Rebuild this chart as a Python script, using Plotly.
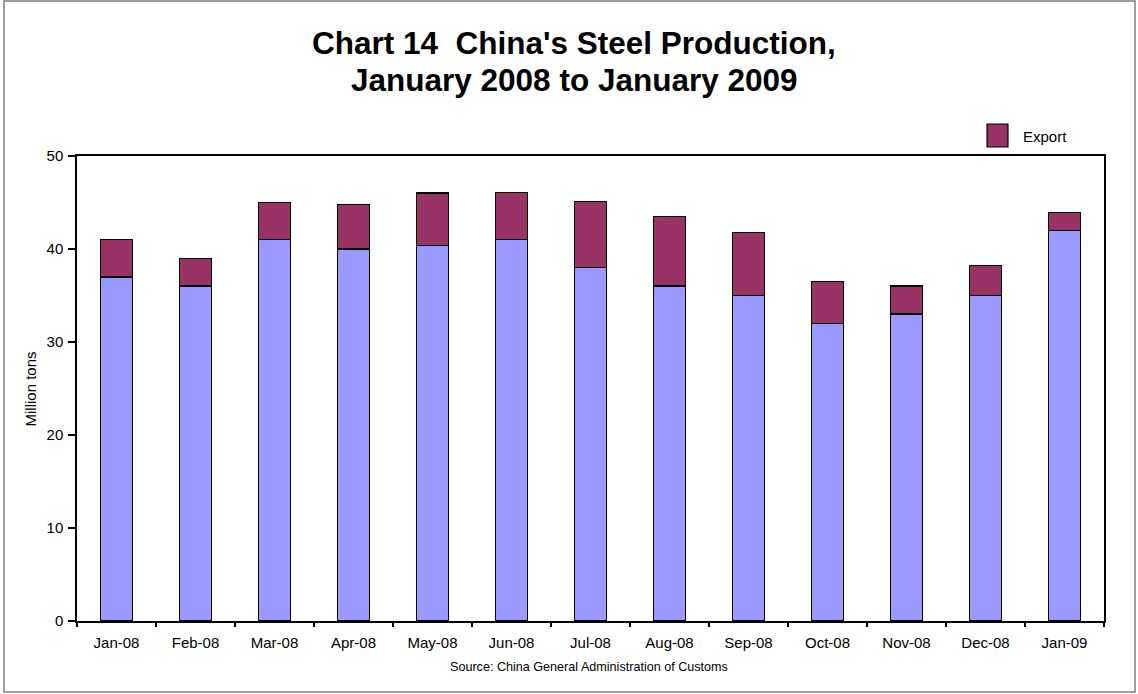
import plotly.graph_objects as go

months = ["Jan-08", "Feb-08", "Mar-08", "Apr-08", "May-08", "Jun-08", "Jul-08",
          "Aug-08", "Sep-08", "Oct-08", "Nov-08", "Dec-08", "Jan-09"]
domestic = [37, 36, 41, 40, 40.4, 41, 38, 36, 35, 32, 33, 35, 42]
export = [4, 3, 4, 4.8, 5.6, 5.1, 7.1, 7.5, 6.8, 4.5, 3, 3.2, 1.9]

FONT = "Arial, Liberation Sans, sans-serif"
x_pos = list(range(len(months)))

fig = go.Figure()
fig.add_trace(go.Bar(
    x=x_pos, y=domestic, name="Domestic", showlegend=False,
    marker=dict(color="#9999FF", line=dict(color="#000000", width=1.5)),
    width=0.405,
))
fig.add_trace(go.Bar(
    x=x_pos, y=export, name="Export", showlegend=False,
    marker=dict(color="#993366", line=dict(color="#000000", width=1.5)),
    width=0.405,
))
# invisible trace to carry the between-category tick marks
fig.add_trace(go.Scatter(x=[-0.5, 12.5], y=[0, 0], xaxis="x2", mode="none",
                         showlegend=False, hoverinfo="skip"))

# title as two annotations so the line spacing matches
title_lines = ["<b>Chart 14  China's Steel Production,</b>",
               "<b>January 2008 to January 2009</b>"]

fig.update_layout(
    barmode="stack",
    width=1138, height=694,
    margin=dict(l=77, r=34, t=156, b=73),
    paper_bgcolor="white", plot_bgcolor="white",
    font=dict(family=FONT, color="#000000", size=15),
    showlegend=False,
    xaxis=dict(
        range=[-0.5, 12.5], tickmode="array", tickvals=x_pos, ticktext=months,
        ticks="outside", ticklen=7, tickcolor="rgba(0,0,0,0)",
        showline=True, linecolor="#000000", linewidth=1.5,
        showgrid=False, zeroline=False, mirror=True, tickfont=dict(size=15),
    ),
    xaxis2=dict(
        overlaying="x", matches="x", range=[-0.5, 12.5], tickmode="array",
        tickvals=[i - 0.5 for i in range(len(months) + 1)], showticklabels=False,
        ticks="outside", ticklen=5, tickcolor="#000000", tickwidth=1.5,
        showgrid=False, zeroline=False, showline=False,
    ),
    yaxis=dict(
        range=[0, 50], dtick=10, ticks="outside", ticklen=7, tickcolor="#000000",
        tickwidth=1.5, showline=True, linecolor="#000000", linewidth=1.5,
        mirror=True, showgrid=False, zeroline=False, tickfont=dict(size=15),
        ticklabelstandoff=2,
    ),
    shapes=[
        dict(type="rect", xref="paper", yref="paper",
             x0=-0.0711, x1=1.0302, y0=-0.1527, y1=1.3333,
             line=dict(color="#808080", width=1.5)),
        # legend swatch
        dict(type="rect", xref="paper", yref="paper",
             x0=0.8861, x1=0.9065, y0=1.0194, y1=1.0688,
             fillcolor="#993366", line=dict(color="#000000", width=1.2)),
    ],
    annotations=[
        dict(text=title_lines[0], xref="paper", yref="paper", x=0.484, y=1.2430,
             xanchor="center", yanchor="middle", showarrow=False,
             font=dict(size=31.5)),
        dict(text=title_lines[1], xref="paper", yref="paper", x=0.484, y=1.1634,
             xanchor="center", yanchor="middle", showarrow=False,
             font=dict(size=31.5)),
        dict(text="Export", xref="paper", yref="paper", x=0.9192, y=1.043,
             xanchor="left", yanchor="middle", showarrow=False,
             font=dict(size=15)),
        dict(text="Million tons", xref="paper", yref="paper", x=-0.0448, y=0.5,
             xanchor="center", yanchor="middle", textangle=-90,
             showarrow=False, font=dict(size=15)),
        dict(text="Source: China General Administration of Customs",
             xref="paper", yref="paper", x=0.499, y=-0.0989,
             xanchor="center", yanchor="middle", showarrow=False,
             font=dict(size=12.6)),
    ],
)

fig.write_html("out.html", config={"displayModeBar": False},
               post_script="document.body.style.margin='0';")
